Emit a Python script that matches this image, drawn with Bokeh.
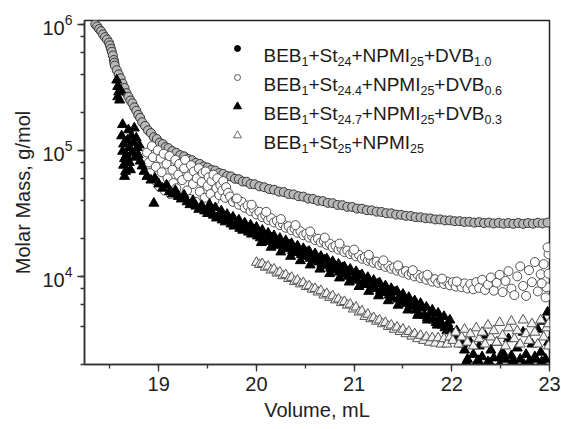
import math
from bokeh.plotting import figure
from bokeh.models import Range1d, LogTicker, SingleIntervalTicker, Label, LogTickFormatter
from bokeh.embed import file_html
from bokeh.resources import INLINE

# ---------------- data ----------------
# Series 1: BEB1+St24+NPMI25+DVB1.0  (upper curve), molar mass in kg/mol
s1_x = [18.35, 18.37, 18.39, 18.41, 18.43, 18.45, 18.47, 18.49, 18.50, 18.51, 18.52, 18.53, 18.54, 18.545,
        18.55, 18.57, 18.59, 18.61, 18.63, 18.65, 18.67, 18.69, 18.71, 18.73, 18.75, 18.77, 18.79, 18.81,
        18.83, 18.86, 18.89, 18.92, 18.95, 18.98, 19.01, 19.04, 19.07, 19.10, 19.14, 19.18, 19.22, 19.26,
        19.30, 19.34, 19.38, 19.42, 19.46, 19.50, 19.54, 19.58, 19.62, 19.66, 19.70, 19.74, 19.78, 19.82,
        19.86, 19.90, 19.94, 19.98, 20.03, 20.08, 20.13, 20.18, 20.23, 20.28, 20.33, 20.38, 20.43, 20.48,
        20.53, 20.58, 20.63, 20.68, 20.73, 20.78, 20.83, 20.88, 20.93, 20.98, 21.03, 21.08, 21.13, 21.18,
        21.23, 21.28, 21.33, 21.38, 21.43, 21.48, 21.53, 21.58, 21.63, 21.68, 21.73, 21.78, 21.83, 21.88,
        21.93, 21.98, 22.03, 22.08, 22.13, 22.18, 22.23, 22.28, 22.33, 22.38, 22.43, 22.48, 22.53, 22.58,
        22.63, 22.68, 22.73, 22.78, 22.83, 22.88, 22.93, 22.98]
s1_m = [1000, 960, 915, 880, 830, 790, 755, 715, 680, 640, 605, 565, 520, 495,
        470, 432, 400, 372, 338, 312, 284, 266, 248, 236, 219, 206, 191, 181,
        167, 156, 144, 137, 127, 123, 115, 112, 106, 104, 98.5, 95.5, 91.5, 89.5,
        85.5, 83.5, 79.5, 78.0, 74.5, 73.0, 70.0, 69.0, 66.0, 65.0, 62.5, 62.0, 59.5, 59.0,
        56.5, 56.3, 54.0, 53.8, 51.8, 50.9, 49.3, 48.6, 47.0, 46.6, 45.0, 44.7, 43.2, 42.9,
        41.4, 41.1, 39.8, 39.5, 38.3, 38.1, 36.9, 36.7, 35.6, 35.5, 34.5, 34.4, 33.5, 33.4,
        32.6, 32.4, 31.7, 31.6, 30.9, 30.8, 30.2, 30.1, 29.5, 29.4, 28.9, 28.8, 28.3, 28.3,
        27.8, 27.8, 27.4, 27.4, 27.0, 27.1, 26.7, 26.9, 26.5, 26.7, 26.3, 26.6, 26.2, 26.5,
        26.1, 26.5, 26.1, 26.5, 26.2, 26.6, 26.3, 26.7]

# Series 2: BEB1+St24.4+NPMI25+DVB0.6  (middle curve)
s2_x = [18.88, 18.90, 18.91, 18.93, 18.94, 18.96, 18.97, 18.99, 19.00, 19.02, 19.03, 19.05, 19.06, 19.08,
        19.09, 19.11, 19.12, 19.14, 19.15, 19.17, 19.18, 19.20, 19.21, 19.23, 19.24, 19.26, 19.27, 19.29,
        19.30, 19.32, 19.33, 19.35, 19.36, 19.38, 19.39, 19.41, 19.42, 19.44, 19.45, 19.47, 19.48, 19.50,
        19.51, 19.53, 19.54, 19.56, 19.57, 19.59, 19.60, 19.62, 19.63, 19.65, 19.66, 19.68, 19.69, 19.71,
        19.73, 19.76, 19.79, 19.82, 19.85, 19.88, 19.91, 19.94, 19.97, 20.00, 20.03, 20.06, 20.09, 20.12,
        20.15, 20.18, 20.21, 20.24, 20.27, 20.30, 20.33, 20.36, 20.39, 20.42, 20.45, 20.48, 20.51, 20.54,
        20.57, 20.60, 20.63, 20.66, 20.69, 20.72, 20.75, 20.78, 20.81, 20.84, 20.87, 20.90, 20.93, 20.96,
        20.99, 21.02, 21.05, 21.08, 21.11, 21.14, 21.17, 21.20, 21.23, 21.26, 21.29, 21.32, 21.35, 21.38,
        21.41, 21.44, 21.47, 21.50, 21.53, 21.56, 21.59, 21.62, 21.65, 21.68, 21.71, 21.74, 21.77, 21.80,
        21.83, 21.86, 21.89, 21.92, 21.95, 21.98, 22.01, 22.04, 22.07, 22.10, 22.13, 22.16, 22.19, 22.22,
        22.25, 22.28, 22.31, 22.34, 22.37, 22.40, 22.43, 22.46, 22.49, 22.52, 22.55, 22.58, 22.61, 22.64,
        22.67, 22.70, 22.73, 22.76, 22.79, 22.82, 22.85, 22.88, 22.91, 22.94, 22.97, 22.99, 22.99, 22.96,
        22.98, 22.92,
        19.80, 19.95, 20.10, 20.25, 20.40, 20.55, 20.70, 20.85, 21.00, 21.15, 21.30, 21.45, 21.60, 21.75,
        21.90, 22.05]
s2_m = [96, 80, 66, 108, 88, 58, 74, 100, 52, 86, 67, 94, 48, 78,
        60, 90, 45, 70, 55, 84, 50, 64, 78, 43, 58, 72, 84, 48,
        62, 41, 76, 54, 68, 39, 60, 72, 47, 56, 66, 42, 68, 52,
        61, 45, 57, 64, 40, 50, 60, 44, 53, 48, 57, 42, 51, 46,
        43, 39, 41, 37, 39, 35, 36.5, 33, 34.5, 31, 32.5, 29.5, 30.5, 28,
        29, 26.8, 27.6, 25.5, 26.2, 24.3, 25, 23.2, 23.9, 22.2, 22.8, 21.2, 21.8, 20.3,
        20.8, 19.4, 19.9, 18.6, 19.0, 17.8, 18.2, 17.0, 17.5, 16.3, 16.7, 15.6, 16.0, 15.0,
        15.4, 14.4, 14.8, 13.8, 14.2, 13.3, 13.6, 12.8, 13.1, 12.3, 12.6, 11.9, 12.2, 11.5,
        11.8, 11.1, 11.4, 10.7, 11.0, 10.3, 10.6, 10.0, 10.3, 9.7, 10.0, 9.4, 9.8, 9.1,
        9.5, 8.9, 9.3, 8.7, 9.1, 8.5, 9.0, 8.3, 8.9, 8.2, 8.8, 8.0, 8.7, 7.9,
        9.0, 8.1, 9.4, 7.8, 8.6, 9.8, 7.7, 8.9, 10.3, 7.5, 9.2, 11.0, 8.0, 7.1,
        10.0, 12.0, 8.4, 7.0, 11.2, 9.0, 13.0, 7.6, 10.4, 12.5, 8.2, 15.0, 10.5, 6.8,
        17.0, 8.8,
        41.5, 37, 32.5, 28.5, 25.5, 22.7, 20.3, 18.2, 16.3, 14.8, 13.4, 12.2, 11.2, 10.3,
        9.6, 9.1]

# Series 3: BEB1+St24.7+NPMI25+DVB0.3  (filled triangles)
s3_x = [18.57, 18.58, 18.59, 18.58, 18.60, 18.61,
        18.63, 18.62, 18.64, 18.63, 18.65, 18.64, 18.66, 18.65, 18.67, 18.68, 18.69, 18.70, 18.70, 18.71,
        18.72, 18.73, 18.74, 18.75, 18.76, 18.77, 18.78, 18.79, 18.80, 18.81, 18.83, 18.85, 18.95,
        18.88, 18.92, 18.96, 19.00, 19.04, 19.08, 19.11, 19.14, 19.17, 19.20, 19.23, 19.26, 19.29, 19.32,
        19.35, 19.38, 19.41, 19.44, 19.47, 19.50, 19.53, 19.56, 19.59, 19.62, 19.65, 19.68, 19.71, 19.74,
        19.77, 19.80, 19.83, 19.86, 19.89, 19.92, 19.95, 19.98, 20.01, 20.04, 20.07, 20.10, 20.13, 20.16,
        20.19, 20.22, 20.25, 20.28, 20.31, 20.34, 20.37, 20.40, 20.43, 20.46, 20.49, 20.52, 20.55, 20.58,
        20.61, 20.64, 20.67, 20.70, 20.73, 20.76, 20.79, 20.82, 20.85, 20.88, 20.91, 20.94, 20.97, 21.00,
        21.03, 21.06, 21.09, 21.12, 21.15, 21.18, 21.21, 21.24, 21.27, 21.30, 21.33, 21.36, 21.39, 21.42,
        21.45, 21.48, 21.51, 21.54, 21.57, 21.60, 21.63, 21.66, 21.69, 21.72, 21.75, 21.78, 21.81, 21.84,
        21.87, 21.90, 21.93, 21.96, 21.99, 22.02, 22.05, 22.08, 22.11,
        22.13, 22.16, 22.19, 22.22, 22.25, 22.28, 22.31, 22.34, 22.37, 22.40, 22.43, 22.46, 22.49, 22.52,
        22.55, 22.58, 22.61, 22.64, 22.67, 22.70, 22.73, 22.76, 22.79, 22.82, 22.85, 22.88, 22.91, 22.94,
        22.96, 22.98, 22.99,
        19.52, 19.58, 19.64, 19.70, 19.76, 19.82, 19.88, 19.94, 20.00, 20.06, 20.12, 20.18, 20.24, 20.30,
        20.36, 20.42, 20.48, 20.54, 20.60, 20.66, 20.72, 20.78, 20.84, 20.90, 20.96, 21.02, 21.08, 21.14,
        21.20, 21.26, 21.32, 21.38, 21.44, 21.50, 21.56, 21.62, 21.68, 21.74, 21.80, 21.86, 21.92, 21.98,
        20.05, 20.15, 20.25, 20.35, 20.45, 20.55, 20.65, 20.75, 20.85, 20.95, 21.05, 21.15, 21.25, 21.35,
        21.45, 21.55, 21.65, 21.75, 21.85, 21.95, 22.05,
        22.15, 22.27, 22.39, 22.50, 22.62, 22.74, 22.86, 22.92]
s3_m = [360, 320, 290, 265, 250, 300,
        160, 130, 112, 98, 86, 76, 68, 62, 92, 120, 145, 105, 80, 70,
        130, 96, 115, 150, 88, 125, 105, 92, 110, 82, 75, 68, 38,
        62, 58, 60, 54, 50, 53, 47, 45, 48, 43, 41, 44, 39, 37,
        40, 36, 34, 36.5, 33, 31.5, 33.5, 30.5, 29, 31, 28, 27, 28.5, 26,
        25, 26.5, 24, 23.2, 24.8, 22.4, 21.6, 23.2, 20.9, 20.2, 21.6, 19.5, 18.9, 20.2,
        18.2, 17.6, 18.9, 17.0, 16.5, 17.7, 15.9, 15.4, 16.6, 14.9, 14.4, 15.5, 13.9, 13.4,
        14.5, 13.0, 12.5, 13.5, 12.1, 11.6, 12.6, 11.2, 10.8, 11.7, 10.4, 10.0, 10.9, 9.7,
        9.3, 10.1, 9.0, 8.6, 9.4, 8.3, 8.0, 8.7, 7.7, 7.4, 8.1, 7.1, 6.8, 7.5,
        6.6, 6.3, 6.9, 6.1, 5.8, 6.1, 5.4, 5.1, 5.6, 4.9, 4.7, 5.1, 4.5, 4.3,
        4.6, 4.1, 3.9, 4.2, 3.7, 3.5, 3.7, 3.2, 2.9,
        2.6, 2.2, 3.0, 2.4, 2.05, 2.8, 2.3, 3.4, 2.1, 2.6, 2.25, 3.0, 2.0, 2.5,
        2.2, 3.2, 2.35, 2.05, 2.7, 2.2, 3.6, 2.4, 2.1, 2.9, 2.3, 3.8, 2.5, 4.4,
        2.2, 5.2, 3.0,
        37, 35, 33, 31, 29.5, 28, 26.5, 25.5, 24.5, 23.2, 22, 21, 20, 19.2,
        18.2, 17.4, 16.6, 15.8, 15.1, 14.4, 13.8, 13.1, 12.5, 11.9, 11.4, 10.9, 10.3, 9.8,
        9.3, 8.9, 8.4, 8.0, 7.6, 7.2, 6.8, 6.4, 6.1, 5.7, 5.4, 5.1, 4.8, 4.5,
        18.5, 17.0, 15.6, 14.4, 13.3, 12.3, 11.4, 10.5, 9.7, 9.0, 8.3, 7.6, 7.0, 6.4,
        5.9, 5.4, 4.9, 4.5, 4.1, 3.7, 3.3,
        2.1, 2.15, 2.05, 2.3, 2.1, 2.0, 2.2, 2.1]

# Series 4: BEB1+St25+NPMI25  (open triangles)
s4_x = [20.00, 20.03, 20.06, 20.09, 20.12, 20.15, 20.18, 20.21, 20.24, 20.27, 20.30, 20.33, 20.36, 20.39,
        20.42, 20.45, 20.48, 20.51, 20.54, 20.57, 20.60, 20.63, 20.66, 20.69, 20.72, 20.75, 20.78, 20.81,
        20.84, 20.87, 20.90, 20.93, 20.96, 20.99, 21.02, 21.05, 21.08, 21.11, 21.14, 21.17, 21.20, 21.23,
        21.26, 21.29, 21.32, 21.35, 21.38, 21.41, 21.44, 21.47, 21.50, 21.53, 21.56, 21.59, 21.62, 21.65,
        21.68, 21.71, 21.74, 21.77, 21.80, 21.83, 21.86, 21.89, 21.92, 21.95, 21.98,
        22.01, 22.04, 22.07, 22.10, 22.13, 22.16, 22.19, 22.22, 22.25, 22.28, 22.31, 22.34, 22.37, 22.40,
        22.43, 22.46, 22.49, 22.52, 22.55, 22.58, 22.61, 22.64, 22.67, 22.70, 22.73, 22.76, 22.79, 22.82,
        22.85, 22.88, 22.91, 22.94, 22.97, 22.99, 22.99]
s4_m = [12.9, 12.4, 12.6, 11.8, 12.0, 11.2, 11.4, 10.6, 10.8, 10.1, 10.3, 9.6, 9.8, 9.1,
        9.3, 8.7, 8.9, 8.3, 8.4, 7.9, 8.0, 7.5, 7.7, 7.1, 7.3, 6.8, 7.0, 6.5,
        6.6, 6.2, 6.3, 5.9, 6.0, 5.5, 5.7, 5.2, 5.3, 4.8, 5.0, 4.6, 4.7, 4.4,
        4.5, 4.2, 4.3, 4.0, 4.1, 3.8, 3.95, 3.65, 3.8, 3.5, 3.65, 3.35, 3.5, 3.2,
        3.4, 3.1, 3.3, 3.0, 3.25, 2.95, 3.25, 2.9, 3.2, 2.9, 3.3,
        3.1, 3.6, 2.9, 3.3, 3.8, 3.0, 3.5, 2.8, 3.9, 3.2, 3.6, 2.9, 4.1, 3.3,
        3.7, 3.0, 4.3, 3.4, 2.8, 3.9, 4.4, 3.2, 3.7, 2.9, 4.5, 3.5, 3.1, 4.2,
        3.6, 2.9, 4.5, 3.3, 3.9, 2.8, 4.2]

x_label = "Volume, mL"
y_label = "Molar Mass, g/mol"
legend_rows = [
    [("BEB", 0), ("1", 1), ("+St", 0), ("24", 1), ("+NPMI", 0), ("25", 1), ("+DVB", 0), ("1.0", 1)],
    [("BEB", 0), ("1", 1), ("+St", 0), ("24.4", 1), ("+NPMI", 0), ("25", 1), ("+DVB", 0), ("0.6", 1)],
    [("BEB", 0), ("1", 1), ("+St", 0), ("24.7", 1), ("+NPMI", 0), ("25", 1), ("+DVB", 0), ("0.3", 1)],
    [("BEB", 0), ("1", 1), ("+St", 0), ("25", 1), ("+NPMI", 0), ("25", 1)],
]

# ---------------- layout ----------------
W, H = 561, 429
LEFT, RIGHT, TOP, BOTTOM = 84, 12, 20, 65
FW, FH = W - LEFT - RIGHT, H - TOP - BOTTOM
X0, X1 = 18.24, 23.0
Y0, Y1 = 2000.0, 1.07e6
FONT = "Liberation Sans"

p = figure(width=W, height=H, x_range=Range1d(X0, X1), y_range=Range1d(Y0, Y1),
           y_axis_type="log", output_backend="svg", toolbar_location=None,
           min_border_left=LEFT, min_border_right=RIGHT, min_border_top=TOP,
           min_border_bottom=BOTTOM)
p.grid.visible = False
p.outline_line_color = "#222222"
p.outline_line_width = 1.5
p.background_fill_color = "white"
p.border_fill_color = "white"

p.xaxis.ticker = SingleIntervalTicker(interval=1, num_minor_ticks=2)
p.yaxis.ticker = LogTicker()
p.yaxis.formatter = LogTickFormatter()
for ax in (p.xaxis, p.yaxis):
    ax.axis_line_color = "#333333"
    ax.axis_line_width = 1.5
    ax.major_tick_line_color = "#333333"
    ax.minor_tick_line_color = "#333333"
    ax.major_tick_line_width = 1.3
    ax.minor_tick_line_width = 1.3
    ax.major_tick_in = 0
    ax.major_tick_out = 7
    ax.minor_tick_in = 0
    ax.minor_tick_out = 4
    ax.major_label_text_font = FONT
    ax.major_label_text_font_size = "20px"
    ax.major_label_text_color = "#222222"
    ax.axis_label_text_font = FONT
    ax.axis_label_text_font_size = "20px"
    ax.axis_label_text_font_style = "normal"
    ax.axis_label_text_color = "#222222"
p.xaxis.axis_label = x_label
p.yaxis.axis_label = y_label

k = 1000.0
p.scatter(s1_x, [v * k for v in s1_m], marker="circle", size=9,
          fill_color="#b8b8b8", line_color="#333333", line_width=1)
p.scatter(s2_x, [v * k for v in s2_m], marker="circle", size=9,
          fill_color="white", line_color="#505050", line_width=1)
p.scatter(s3_x, [v * k for v in s3_m], marker="triangle", size=10,
          fill_color="black", line_color="black", line_width=1)
p.scatter(s4_x, [v * k for v in s4_m], marker="triangle", size=10,
          fill_color="#f2f2f2", line_color="#555555", line_width=1)

# ---------------- legend (manual, with subscripts) ----------------
def px_x(px):
    return X0 + (px - LEFT) * (X1 - X0) / FW

def py_y(py):
    l1, l0 = math.log10(Y1), math.log10(Y0)
    return 10 ** (l1 - (py - TOP) * (l1 - l0) / FH)

ARIAL = {"B": 667, "E": 667, "+": 584, "S": 667, "t": 278, "N": 722, "P": 667, "M": 833,
         "I": 278, "D": 722, "V": 667, ".": 278}
for d in "0123456789":
    ARIAL[d] = 556

MAIN, SUB = 19, 12.5
row_px = [48, 77, 106, 135]
styles = [
    dict(marker="circle", size=6, fill_color="black", line_color="black"),
    dict(marker="circle", size=6, fill_color="white", line_color="#555555"),
    dict(marker="triangle", size=8, fill_color="black", line_color="black"),
    dict(marker="triangle", size=8, fill_color="white", line_color="#6a6a6a"),
]
for row, cy, st in zip(legend_rows, row_px, styles):
    p.scatter([px_x(237)], [py_y(cy)], **st)
    bx, by = px_x(263), py_y(cy + 6.5)
    off = 0.0
    for txt, sub in row:
        size = SUB if sub else MAIN
        p.add_layout(Label(x=bx, y=by, x_offset=off, y_offset=-6 if sub else 0, text=txt,
                           text_font=FONT, text_font_size=f"{size}px", text_color="#1a1a1a",
                           text_baseline="alphabetic", text_align="left"))
        off += sum(ARIAL[c] for c in txt) * size / 1000.0

open("out.html", "w").write(file_html(p, INLINE))
